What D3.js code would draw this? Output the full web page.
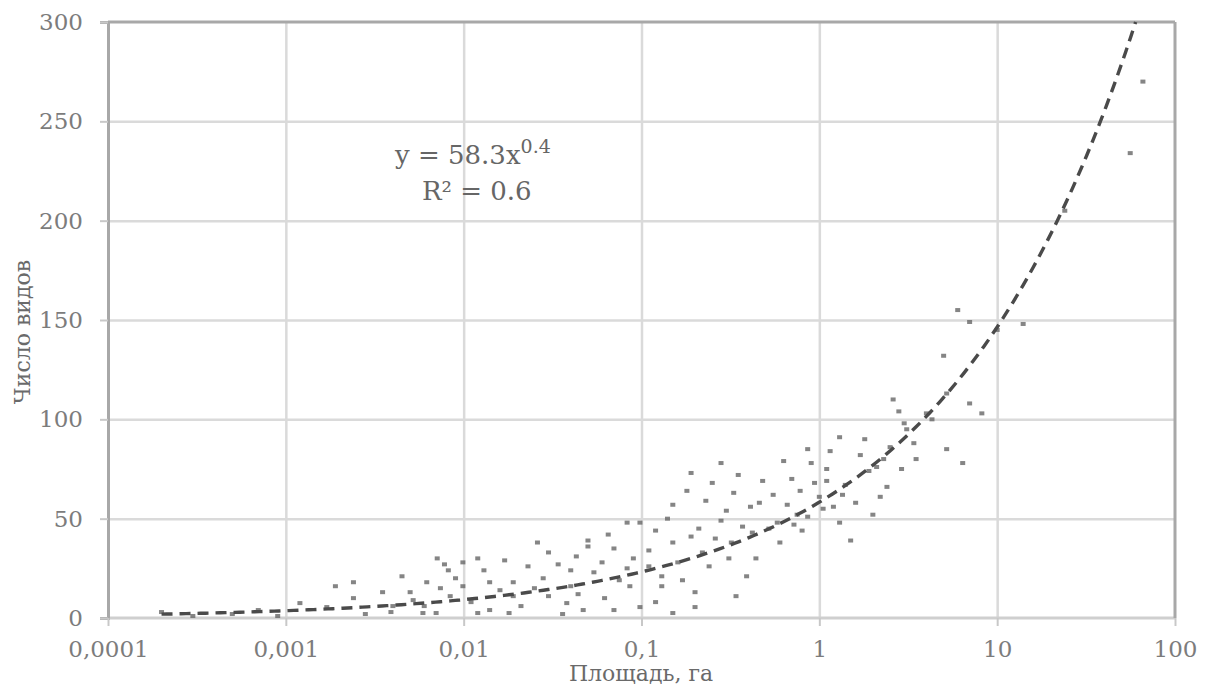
<!DOCTYPE html>
<html><head><meta charset="utf-8">
<script src="https://cdn.jsdelivr.net/npm/d3@7"></script>
<style>body{margin:0;background:#fff} svg{display:block;font-family:"DejaVu Serif",serif}</style>
</head><body><svg id="c" width="1208" height="688"></svg>
<script>
// ---- data ----
const area = [
0.0002,0.0003,0.0005,0.0007,0.0009,0.0012,0.0017,0.0019,0.0024,0.0024,
0.0035,0.0039,0.005,0.0052,0.0059,0.0062,0.007,0.0071,0.0074,0.0078,
0.0082,0.0084,0.0099,0.0099,0.012,0.012,0.014,0.014,0.018,0.019,
0.019,0.026,0.028,0.03,0.03,0.038,0.04,0.04,0.047,0.05,
0.05,0.054,0.06,0.044,0.07,0.07,0.083,0.083,0.086,0.098,
0.098,0.11,0.11,0.13,0.15,0.15,0.15,0.16,0.19,0.19,
0.2,0.2,0.22,0.23,0.28,0.28,0.3,0.32,0.33,0.34,
0.37,0.39,0.41,0.42,0.48,0.58,0.63,0.75,0.78,0.86,
0.86,0.94,1,1.05,1.1,1.1,1.2,1.3,1.3,1.35,
1.4,1.5,1.7,1.9,2.1,2.2,2.4,2.5,2.6,2.8,
2.9,3.0,3.1,3.4,4,4.3,5,5.2,5.2,6,
6.4,7,7,8.2,10,14,24,56,66,
0.006,0.009,0.011,0.013,0.016,0.017,0.021,0.023,0.025,0.034,
0.036,0.043,0.062,0.065,0.075,0.09,0.12,0.12,0.13,0.14,
0.17,0.18,0.21,0.24,0.25,0.26,0.31,0.35,0.44,0.46,
0.52,0.55,0.6,0.66,0.7,0.72,0.8,0.9,1.15,1.6,
1.8,2,2.3,3.5,0.004,0.0028,0.0045
];
const species = [
3,1,2,4,1,7.5,5.5,16,18,10,
13,3,13,9,2.5,18,2.5,30,15,27,
24,11,28,16,30,2.5,18,4,2.5,11,
18,38,20,33,11,7.5,24,16,4,39,
36,23,28,12,35,4,25,48,16,48,
5.5,26,34,16,57,38,2.5,28,41,73,
13,5.5,33,59,78,49,54,38,63,11,
46,21,56,43,69,48,79,52,64,85,
51,68,61,55,69,75,56,91,48,62,
67,39,82,74,76,61,66,86,110,104,
75,98,95,88,103,100,132,113,85,155,
78,149,108,103,145,148,205,234,270,
6,20,8,24,14,29,6,26,15,27,
2,31,10,42,19,30,44,8,21,50,
19,64,45,26,68,40,30,72,30,58,
45,62,38,57,70,47,44,78,84,58,
90,52,80,80,6,2,21
];
const xTickValues = [0.0001,0.001,0.01,0.1,1,10,100];
const xTickLabels = ["0,0001","0,001","0,01","0,1","1","10","100"];
const yTickValues = [0,50,100,150,200,250,300];
const xTitle = "Площадь, га";
const yTitle = "Число видов";
const trendCoef = 58.3, trendExp = 0.4, trendStart = 0.0002;
const eqMain = "y = 58.3x", eqSup = "0.4", r2Text = "R² = 0.6";

// ---- layout ----
const L = 108, R = 1175, T = 22, B = 618;
const svg = d3.select("#c");
const x = d3.scaleLog().domain([0.0001, 100]).range([L, R]);
const y = d3.scaleLinear().domain([0, 300]).range([B, T]);
const FONT = "DejaVu Serif";

// gridlines
svg.append("g").attr("transform", `translate(0,${B})`)
  .call(d3.axisBottom(x).tickValues(xTickValues.slice(1, -1)).tickSize(-(B - T)).tickFormat(""))
  .call(g => g.select(".domain").remove())
  .call(g => g.selectAll("line").attr("stroke", "#dadada").attr("stroke-width", 2.5));
svg.append("g").attr("transform", `translate(${L},0)`)
  .call(d3.axisLeft(y).tickValues(yTickValues.slice(1, -1)).tickSize(-(R - L)).tickFormat(""))
  .call(g => g.select(".domain").remove())
  .call(g => g.selectAll("line").attr("stroke", "#dadada").attr("stroke-width", 2.5));

// border lines
svg.append("line").attr("x1", L).attr("x2", R).attr("y1", B).attr("y2", B).attr("stroke", "#cfcfcf").attr("stroke-width", 3);
svg.append("line").attr("x1", L).attr("x2", R).attr("y1", T).attr("y2", T).attr("stroke", "#a8a8a8").attr("stroke-width", 3);
svg.append("line").attr("x1", R).attr("x2", R).attr("y1", T).attr("y2", B).attr("stroke", "#a8a8a8").attr("stroke-width", 3);

// axes
const yAx = svg.append("g").attr("transform", `translate(${L},0)`)
  .call(d3.axisLeft(y).tickValues(yTickValues).tickSize(8).tickPadding(17));
yAx.select(".domain").attr("stroke", "#a8a8a8").attr("stroke-width", 3);
yAx.selectAll("line").attr("stroke", "#c8c8c8").attr("stroke-width", 2);
yAx.selectAll("text").attr("font-size", 23).attr("fill", "#7c7c7c").attr("font-family", FONT);

const xAx = svg.append("g").attr("transform", `translate(0,${B})`)
  .call(d3.axisBottom(x).tickValues(xTickValues).tickFormat((d, i) => xTickLabels[i]).tickSize(8).tickPadding(15));
xAx.select(".domain").remove();
xAx.selectAll("line").attr("stroke", "#c8c8c8").attr("stroke-width", 2);
xAx.selectAll("text").attr("font-size", 23).attr("fill", "#7c7c7c").attr("font-family", FONT);

// points
const pts = area.map((a, i) => ({a, s: species[i]}));
svg.append("g").selectAll("rect").data(pts).join("rect")
  .attr("x", d => x(d.a) - 2.5).attr("y", d => y(d.s) - 2)
  .attr("width", 5).attr("height", 4)
  .attr("fill", "#666").attr("opacity", 0.8);

// trend line
const xEnd = Math.pow(300 / trendCoef, 1 / trendExp);
const lx = d3.scaleLinear().domain([0, 199]).range([Math.log10(trendStart), Math.log10(xEnd)]);
const tr = d3.range(200).map(i => { const a = Math.pow(10, lx(i)); return [a, trendCoef * Math.pow(a, trendExp)]; });
svg.append("path").datum(tr)
  .attr("d", d3.line().x(d => x(d[0])).y(d => y(d[1])))
  .attr("fill", "none").attr("stroke", "#4a4a4a").attr("stroke-width", 3.4)
  .attr("stroke-dasharray", "11,7");

// equation
const eq = svg.append("text").attr("x", 395).attr("y", 164).attr("font-size", 26).attr("fill", "#666");
eq.append("tspan").text(eqMain);
eq.append("tspan").attr("dy", -11).attr("font-size", 19).text(eqSup);
svg.append("text").attr("x", 422).attr("y", 200).attr("font-size", 26).attr("fill", "#666").text(r2Text);

// titles
svg.append("text").attr("x", 641).attr("y", 681).attr("text-anchor", "middle")
  .attr("font-size", 22).attr("fill", "#6a6a6a").attr("font-family", FONT).text(xTitle);
svg.append("text").attr("transform", "translate(30,332) rotate(-90)").attr("text-anchor", "middle")
  .attr("font-size", 22).attr("fill", "#6a6a6a").attr("font-family", FONT).text(yTitle);
</script></body></html>
